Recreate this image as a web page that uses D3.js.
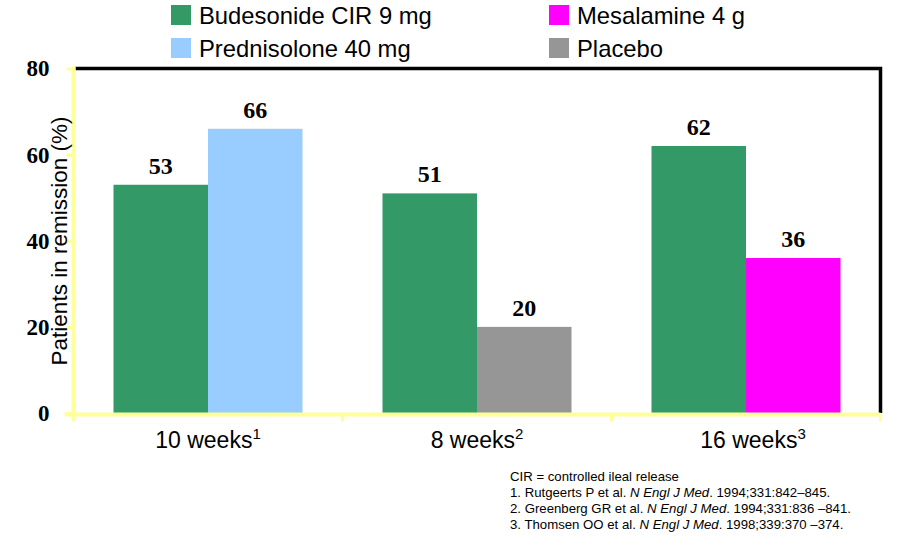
<!DOCTYPE html>
<html><head><meta charset="utf-8">
<script src="https://cdn.jsdelivr.net/npm/d3@7"></script>
<style>body{margin:0;background:#fff}svg{display:block}</style>
</head><body><svg id="c" width="897" height="538"></svg>
<script>
const categories = ["10 weeks", "8 weeks", "16 weeks"];
const categorySup = ["1", "2", "3"];
const seriesNames = ["Budesonide CIR 9 mg", "Prednisolone 40 mg", "Mesalamine 4 g", "Placebo"];
const seriesColors = ["#339966", "#99CCFF", "#FF00FF", "#969696"];
const budesonideValues = [53, 51, 62];
const comparatorSeries = [1, 3, 2];
const comparatorValues = [66, 20, 36];
const yTicks = [0, 20, 40, 60, 80];
const footnotes = [
  ["CIR = controlled ileal release", null, ""],
  ["1. Rutgeerts P et al. ", "N Engl J Med", ". 1994;331:842\u2013845."],
  ["2. Greenberg GR et al. ", "N Engl J Med", ". 1994;331:836 \u2013841."],
  ["3. Thomsen OO et al. ", "N Engl J Med", ". 1998;339:370 \u2013374."]
];

const svg = d3.select("#c");
const L = 73.5, R = 880.5, T = 68.5, B = 413;
const x = d3.scaleBand().domain(categories).range([L, R]);
const y = d3.scaleLinear().domain([0, 80]).range([B, T]);
const inner = d3.scaleBand().domain([0, 1]).range([0, 189]);
const off = (x.bandwidth() - 189) / 2;

const bars = [];
categories.forEach((c, i) => {
  bars.push({c, k: 0, s: 0, v: budesonideValues[i]});
  bars.push({c, k: 1, s: comparatorSeries[i], v: comparatorValues[i]});
});
svg.selectAll("rect.bar").data(bars).join("rect").attr("class", "bar")
  .attr("x", d => x(d.c) + off + inner(d.k))
  .attr("width", inner.bandwidth())
  .attr("y", d => y(d.v))
  .attr("height", d => B - y(d.v))
  .attr("fill", d => seriesColors[d.s]);
svg.selectAll("text.val").data(bars).join("text").attr("class", "val")
  .attr("x", d => x(d.c) + off + inner(d.k) + inner.bandwidth() / 2)
  .attr("y", d => y(d.v) - 11)
  .attr("text-anchor", "middle")
  .attr("font-family", "Liberation Serif, Times New Roman, serif")
  .attr("font-weight", "bold").attr("font-size", 24)
  .text(d => d.v);

svg.append("path").attr("d", `M${L + 2},${T} H${R} V${B}`)
  .attr("fill", "none").attr("stroke", "#000").attr("stroke-width", 3.5);

const yAxis = d3.axisLeft(y).tickValues(yTicks).tickSize(7).tickFormat(d => d);
const gy = svg.append("g").attr("transform", `translate(${L},0)`).call(yAxis);
gy.select(".domain").attr("stroke", "#FFFF99").attr("stroke-width", 4)
  .attr("d", `M0,${T - 2}V${B + 3}`);
gy.selectAll(".tick line").attr("stroke", "#FFFF99").attr("stroke-width", 3);
gy.selectAll(".tick text").attr("x", -24).attr("dy", "0.32em")
  .attr("font-family", "Liberation Serif, Times New Roman, serif")
  .attr("font-weight", "bold").attr("font-size", 23).attr("fill", "#000");

const xAxis = d3.axisBottom(x).tickSize(0).tickFormat("");
const gx = svg.append("g").attr("transform", `translate(0,${B + 1.5})`).call(xAxis);
gx.select(".domain").attr("stroke", "#FFFF99").attr("stroke-width", 4)
  .attr("d", `M${L - 9},0H${R}`);
const bounds = [L, ...categories.map(c => x(c) + x.bandwidth())];
gx.selectAll("line.sep").data(bounds).join("line").attr("class", "sep")
  .attr("x1", d => d).attr("x2", d => d).attr("y1", 0).attr("y2", 7)
  .attr("stroke", "#FFFF99").attr("stroke-width", 3);
const xl = svg.selectAll("text.cat").data(categories).join("text").attr("class", "cat")
  .attr("x", (d, i) => x(d) + x.bandwidth() / 2 + (i === 2 ? 7 : 0))
  .attr("y", 448).attr("text-anchor", "middle")
  .attr("font-family", "Liberation Sans, Arial, sans-serif").attr("font-size", 23);
xl.append("tspan").text(d => d);
xl.append("tspan").attr("dy", -9).attr("font-size", 15).text((d, i) => categorySup[i]);

svg.append("text").attr("transform", `translate(67,${241}) rotate(-90)`)
  .attr("text-anchor", "middle")
  .attr("font-family", "Liberation Sans, Arial, sans-serif").attr("font-size", 22.5)
  .text("Patients in remission (%)");

const legPos = [[171, 5], [171, 38], [549, 5], [549, 38]];
seriesNames.forEach((n, i) => {
  const [lx, ly] = legPos[i];
  svg.append("rect").attr("x", lx).attr("y", ly).attr("width", 20).attr("height", 20)
    .attr("fill", seriesColors[i]);
  svg.append("text").attr("x", lx + 28).attr("y", ly + 19)
    .attr("font-family", "Liberation Sans, Arial, sans-serif").attr("font-size", 23.8)
    .text(n);
});

footnotes.forEach((f, i) => {
  const t = svg.append("text").attr("x", 510).attr("y", 481 + i * 16)
    .attr("font-family", "Liberation Sans, Arial, sans-serif").attr("font-size", 13.2);
  t.append("tspan").text(f[0]);
  if (f[1]) t.append("tspan").attr("font-style", "italic").text(f[1]);
  if (f[2]) t.append("tspan").text(f[2]);
});
</script></body></html>
